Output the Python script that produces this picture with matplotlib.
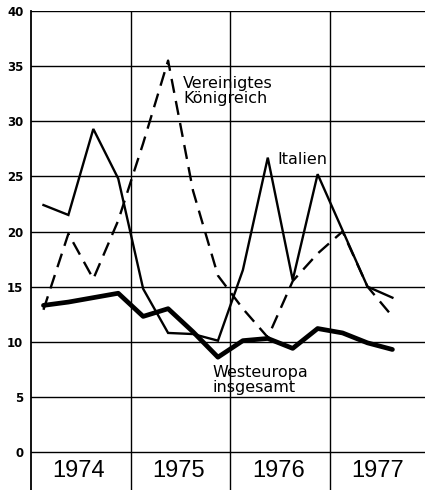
import matplotlib
matplotlib.use("Agg")
import matplotlib.pyplot as plt
import numpy as np

years = ["1974", "1975", "1976", "1977"]
y_ticks = [0, 5, 10, 15, 20, 25, 30, 35, 40]

# quarterly values, Q1 1974 .. Q3 1977
italien = [22.4, 21.5, 29.3, 24.8, 14.8, 10.8, 10.7, 10.1,
           16.5, 26.7, 15.6, 25.2, 20.1, 15.0, 14.0]
uk = [12.9, 19.8, 15.7, 21.0, 28.0, 35.5, 23.7, 16.0,
      13.0, 10.4, 15.5, 18.0, 20.0, 15.0, 12.3]
westeuropa = [13.3, 13.6, 14.0, 14.4, 12.3, 13.0, 10.9, 8.6,
              10.1, 10.3, 9.4, 11.2, 10.8, 9.9, 9.3]

W, H = 425, 490
fig = plt.figure(figsize=(W / 100, H / 100), dpi=100)
ax = fig.add_axes([31 / W, 0, 1 - 31 / W, 1 - 11 / H])

xq = (np.arange(len(italien)) + 0.5) / 4.0

ymin = (452 - 490) / 11.03
ax.set_ylim(ymin, 40)
ax.set_xlim(0, (425 - 31) / 99.7)

# grid
for t in y_ticks:
    ax.axhline(t, color="black", lw=1.0, zorder=1)
for i in range(1, len(years)):
    ax.axvline(i, color="black", lw=1.0, zorder=1)

ax.plot(xq, westeuropa, color="black", lw=3.4, solid_joinstyle="round",
        solid_capstyle="round", zorder=3)
ax.plot(xq, italien, color="black", lw=1.7, solid_joinstyle="miter", zorder=3)
ax.plot(xq, uk, color="black", lw=1.7, dashes=(6, 3.5), zorder=3)

for s in ["top", "right", "bottom"]:
    ax.spines[s].set_visible(False)
ax.spines["left"].set_linewidth(1.3)

ax.set_yticks(y_ticks)
ax.set_yticklabels([str(t) for t in y_ticks], fontsize=8.5, fontweight="bold",
                   family=["DejaVu Sans"])
ax.tick_params(axis="y", length=0, pad=5.5)
ax.set_xticks([])

yfont = ["Liberation Sans", "DejaVu Sans"]
for i, yr in enumerate(years):
    ax.text(i + 0.48, -1.75, yr, ha="center", va="center", fontsize=17,
            family=yfont)

lab_font = ["DejaVu Sans"]
ax.text(1.525, 32.7, "Vereinigtes\nKönigreich", ha="left", va="center",
        fontsize=11.5, family=lab_font, linespacing=1.0)
ax.text(2.47, 26.5, "Italien", ha="left", va="center", fontsize=11.5,
        family=lab_font)
ax.text(1.825, 6.5, "Westeuropa\ninsgesamt", ha="left", va="center",
        fontsize=11.5, family=lab_font, linespacing=1.0)

fig.savefig("out.png", dpi=100)
